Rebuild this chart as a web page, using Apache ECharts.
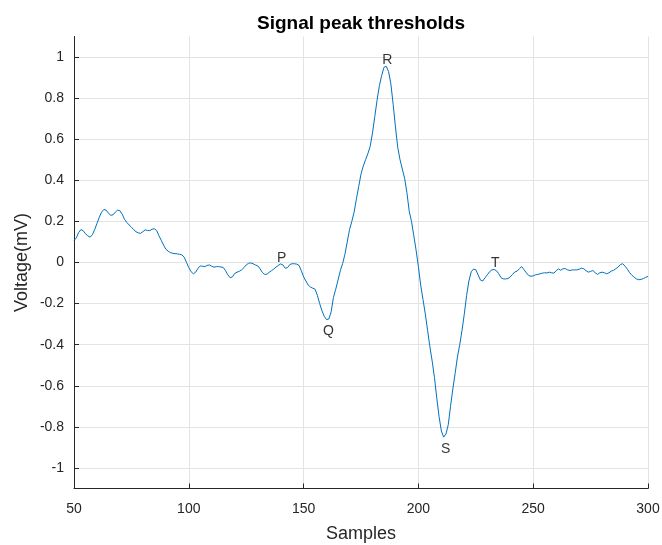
<!DOCTYPE html>
<html>
<head>
<meta charset="utf-8">
<script src="https://cdn.jsdelivr.net/npm/echarts@6/dist/echarts.min.js"></script>
<style>
  html, body { margin: 0; padding: 0; background: #fff; }
  #chart { width: 662px; height: 545px; }
</style>
</head>
<body>
<div id="chart"></div>
<script>
// ECG segment, one value per sample from 50 to 300
const sampleStart = 50;
const voltage = [
  0.107, 0.12, 0.145, 0.16, 0.155, 0.14, 0.13, 0.123, 0.135, 0.16,
  0.19, 0.22, 0.245, 0.258, 0.255, 0.24, 0.23, 0.232, 0.245, 0.255,
  0.252, 0.235, 0.21, 0.195, 0.183, 0.172, 0.16, 0.15, 0.144, 0.142,
  0.15, 0.159, 0.156, 0.155, 0.162, 0.164, 0.156, 0.13, 0.108, 0.085,
  0.065, 0.055, 0.048, 0.045, 0.043, 0.042, 0.04, 0.037, 0.026, 0.0,
  -0.025, -0.045, -0.055, -0.047, -0.028, -0.017, -0.018, -0.02, -0.014, -0.012,
  -0.018, -0.023, -0.02, -0.02, -0.022, -0.024, -0.04, -0.06, -0.074, -0.07,
  -0.053, -0.047, -0.043, -0.036, -0.025, -0.012, -0.004, -0.002, -0.006, -0.012,
  -0.016, -0.03, -0.048, -0.058, -0.057, -0.048, -0.04, -0.032, -0.022, -0.014,
  -0.007, -0.012, -0.028, -0.025, -0.01, -0.006, -0.006, -0.008, -0.014, -0.04,
  -0.07, -0.09, -0.11, -0.12, -0.125, -0.13, -0.16, -0.2, -0.235, -0.262,
  -0.278, -0.275, -0.24, -0.17, -0.13, -0.085, -0.04, -0.005, 0.04, 0.1,
  0.16, 0.2, 0.245, 0.31, 0.37, 0.43, 0.47, 0.5, 0.53, 0.565,
  0.63, 0.71, 0.79, 0.86, 0.91, 0.95, 0.955, 0.93, 0.87, 0.77,
  0.66, 0.56, 0.5, 0.455, 0.41, 0.34, 0.25, 0.2, 0.13, 0.06,
  -0.02, -0.11, -0.18, -0.25, -0.33, -0.41, -0.48, -0.56, -0.66, -0.75,
  -0.82, -0.85, -0.835, -0.79, -0.7, -0.615, -0.54, -0.46, -0.4, -0.33,
  -0.25, -0.16, -0.09, -0.045, -0.032, -0.035, -0.06, -0.085, -0.09, -0.075,
  -0.06, -0.045, -0.036, -0.034, -0.04, -0.055, -0.074, -0.08, -0.08, -0.078,
  -0.07, -0.058, -0.046, -0.042, -0.03, -0.02, -0.035, -0.05, -0.063, -0.067,
  -0.065, -0.06, -0.058, -0.055, -0.052, -0.05, -0.051, -0.047, -0.05, -0.052,
  -0.04, -0.031, -0.038, -0.03, -0.03, -0.036, -0.039, -0.036, -0.036, -0.036,
  -0.033, -0.028, -0.03, -0.04, -0.047, -0.043, -0.039, -0.05, -0.058, -0.05,
  -0.047, -0.05, -0.055, -0.05, -0.042, -0.038, -0.03, -0.022, -0.01, -0.006,
  -0.018, -0.032, -0.05, -0.062, -0.072, -0.08, -0.084, -0.082, -0.078, -0.072,
  -0.068
];

// Wave landmarks
const peakNames = ['P', 'Q', 'R', 'S', 'T'];
const peakSamples = [140, 160, 186, 211, 233];
const peakAbove = [true, false, true, false, true];

// Axis ticks
const xTicks = [50, 100, 150, 200, 250, 300];
const yTicks = [-1, -0.8, -0.6, -0.4, -0.2, 0, 0.2, 0.4, 0.6, 0.8, 1];

const ink = '#262626';
const gridColor = '#e3e3e3';
const font = 'Liberation Sans, Arial, Helvetica, sans-serif';

const lineData = voltage.map((v, i) => [sampleStart + i, v]);
const peakData = peakNames.map((name, i) => {
  const s = peakSamples[i];
  return {
    name: name,
    value: [s, voltage[s - sampleStart]],
    label: {
      position: peakAbove[i] ? 'top' : 'bottom',
      distance: peakAbove[i] ? 0 : 5,
      offset: peakAbove[i] ? [1, 1] : [2, 0]
    }
  };
});

const chart = echarts.init(document.getElementById('chart'), null, { renderer: 'canvas' });
chart.setOption({
  animation: false,
  backgroundColor: '#ffffff',
  title: {
    text: 'Signal peak thresholds',
    left: 356,
    textAlign: 'center',
    top: 9,
    textStyle: { fontFamily: font, fontSize: 19, fontWeight: 'bold', color: '#000' }
  },
  grid: {
    left: 74, right: 14, top: 36.5, bottom: 56.5,
    containLabel: false,
    outerBoundsMode: 'none'
  },
  xAxis: {
    type: 'value',
    min: 50,
    max: 300,
    interval: 50,
    name: 'Samples',
    nameLocation: 'middle',
    nameGap: 37,
    nameMoveOverlap: false,
    nameTextStyle: { fontFamily: font, fontSize: 18, color: ink },
    axisLine: { onZero: false, lineStyle: { color: ink, width: 1 } },
    axisTick: { inside: true, length: 5, lineStyle: { color: ink } },
    axisLabel: {
      fontFamily: font, fontSize: 14, color: ink, margin: 14,
      customValues: xTicks
    },
    splitLine: { show: true, lineStyle: { color: gridColor, width: 1 } }
  },
  yAxis: {
    type: 'value',
    min: -1.1,
    max: 1.1,
    name: 'Voltage(mV)',
    nameLocation: 'middle',
    nameGap: 43,
    nameMoveOverlap: false,
    nameRotate: 90,
    nameTextStyle: { fontFamily: font, fontSize: 18, color: ink },
    axisLine: { show: true, onZero: false, lineStyle: { color: ink, width: 1 } },
    axisTick: { show: true, inside: true, length: 5, lineStyle: { color: ink }, customValues: yTicks },
    axisLabel: {
      fontFamily: font, fontSize: 14, color: ink, margin: 10,
      customValues: yTicks,
      formatter: v => String(Math.round(v * 10) / 10)
    },
    splitLine: { show: true, lineStyle: { color: gridColor, width: 1 } }
  },
  series: [
    {
      type: 'line',
      data: lineData,
      showSymbol: false,
      symbol: 'none',
      smooth: false,
      lineStyle: { color: '#0072BD', width: 1 },
      z: 3
    },
    {
      type: 'scatter',
      data: peakData,
      symbolSize: 0,
      label: {
        show: true,
        formatter: p => p.name,
        fontFamily: font,
        fontSize: 14,
        color: '#000'
      },
      z: 4
    }
  ]
});
</script>
</body>
</html>
